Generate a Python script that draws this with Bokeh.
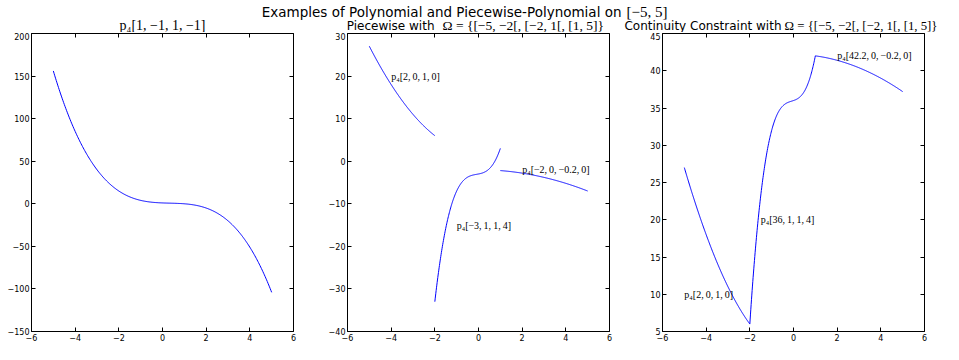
import numpy as np
from numpy.polynomial import polynomial as P
from bokeh.plotting import figure
from bokeh.layouts import column, row
from bokeh.models import Range1d, FixedTicker, LinearAxis
from bokeh.core.properties import value
from bokeh.embed import file_html
from bokeh.resources import INLINE

# ---------------- data ----------------
suptitle_text = "Examples of Polynomial and Piecewise-Polynomial on"
suptitle_math = "[−5, 5]"
subtitle_2_text = "Piecewise with"
subtitle_3_text = "Continuity Constraint with"
omega_math = "Ω = {[−5, −2[, [−2, 1[, [1, 5]}"

x_ticks = [-6, -4, -2, 0, 2, 4, 6]
x_tick_labels = ["−6", "−4", "−2", "0", "2", "4", "6"]
y_ticks_1 = [-150, -100, -50, 0, 50, 100, 150, 200]
y_tick_labels_1 = ["−150", "−100", "−50", "0", "50", "100", "150", "200"]
y_ticks_2 = [-40, -30, -20, -10, 0, 10, 20, 30]
y_tick_labels_2 = ["−40", "−30", "−20", "−10", "0", "10", "20", "30"]
y_ticks_3 = [5, 10, 15, 20, 25, 30, 35, 40, 45]
y_tick_labels_3 = ["5", "10", "15", "20", "25", "30", "35", "40", "45"]

domain = [-5, 5]
breaks = [-5, -2, 1, 5]
poly_coeffs = [1, -1, 1, -1]                      # a + b x + c x^2 + d x^3
piecewise_coeffs = [[2, 0, 1, 0], [-3, 1, 1, 4], [-2, 0, -0.2, 0]]
continuity_coeffs = [[2, 0, 1, 0], [36, 1, 1, 4], [42.2, 0, -0.2, 0]]
piecewise_label_x = [-4, -1, 2]
piecewise_label_y = [20, -15, -2]
continuity_label_x = [-5, -1.5, 2]
continuity_label_y = [10, 20, 42]

# ---------------- helpers ----------------
def fmt(c):
    return f"{c:g}".replace("-", "−")

def plabel(coeffs, sep=",\u2009"):
    return "p₄[" + sep.join(fmt(c) for c in coeffs) + "]"

FONT = "DejaVu Sans"
SERIF = "Liberation Serif"
HDR_H = 32
FIG_H = 344 - HDR_H
BT, BB = 1, 13
FRAME_W = [262, 262, 262]
BL = [31, 27, 27]
BR = [27, 26, 19]
WIDTHS = [BL[i] + FRAME_W[i] + BR[i] for i in range(3)]
TOTAL_W = sum(WIDTHS)


def make_panel(i, y_range, y_ticks, y_labels):
    p = figure(width=WIDTHS[i], height=FIG_H,
               x_range=Range1d(-6, 6), y_range=Range1d(*y_range),
               output_backend="svg", toolbar_location=None,
               min_border_left=BL[i], min_border_right=BR[i],
               min_border_top=BT, min_border_bottom=BB,
               x_axis_type=None, y_axis_type=None)
    p.outline_line_color = "black"
    p.outline_line_width = 1
    p.background_fill_color = "white"
    p.border_fill_color = "white"
    for side in ["below", "left", "above", "right"]:
        is_x = side in ("below", "above")
        ticks = x_ticks if is_x else y_ticks
        labels = x_tick_labels if is_x else y_labels
        ax = LinearAxis(ticker=FixedTicker(ticks=ticks),
                        major_tick_in=4, major_tick_out=0,
                        major_tick_line_color="black", major_tick_line_width=1,
                        minor_tick_line_color=None, axis_line_color=None,
                        major_label_text_font=FONT,
                        major_label_text_color="black")
        if side in ("below", "left"):
            ax.major_label_overrides = {t: l for t, l in zip(ticks, labels)}
            ax.major_label_text_font_size = "8px"
            ax.major_label_standoff = 2
        else:
            ax.major_label_overrides = {t: "" for t in ticks}
            ax.major_label_text_font_size = "0px"
            ax.major_label_standoff = 0
        p.add_layout(ax, side)
    return p


# Panel 1
p1 = make_panel(0, (-150, 200), y_ticks_1, y_tick_labels_1)
x1 = np.linspace(domain[0], domain[1], 300)
p1.line(x1, P.polyval(x1, poly_coeffs), line_color="blue", line_width=1)

# Panel 2
p2 = make_panel(1, (-40, 30), y_ticks_2, y_tick_labels_2)
for k, c in enumerate(piecewise_coeffs):
    xs = np.linspace(breaks[k], breaks[k + 1], 200)
    p2.line(xs, P.polyval(xs, c), line_color="blue", line_width=1)
p2.text(x=piecewise_label_x, y=piecewise_label_y,
        text=[plabel(c) for c in piecewise_coeffs],
        text_font=value(SERIF), text_font_size="10px", text_color="black",
        text_align="left", text_baseline="alphabetic")

# Panel 3
p3 = make_panel(2, (5, 45), y_ticks_3, y_tick_labels_3)
for k, c in enumerate(continuity_coeffs):
    xs = np.linspace(breaks[k], breaks[k + 1], 200)
    p3.line(xs, P.polyval(xs, c), line_color="blue", line_width=1)
p3.text(x=continuity_label_x, y=continuity_label_y,
        text=[plabel(c) for c in continuity_coeffs],
        text_font=value(SERIF), text_font_size="10px", text_color="black",
        text_align="left", text_baseline="alphabetic")

# Header with titles (x in page pixels, y measured up from header bottom)
hdr = figure(width=TOTAL_W, height=HDR_H,
             x_range=Range1d(0, TOTAL_W), y_range=Range1d(0, HDR_H),
             output_backend="svg", toolbar_location=None, min_border=0,
             min_border_left=0, min_border_right=0,
             min_border_top=0, min_border_bottom=0,
             x_axis_type=None, y_axis_type=None)
hdr.outline_line_color = None
frame_left = []
off = 0
for i in range(3):
    frame_left.append(off + BL[i])
    off += WIDTHS[i]
centers = [fl + FRAME_W[i] / 2 for i, fl in enumerate(frame_left)]

sup_base = HDR_H - 11
sub_base = HDR_H - 25
hdr.text(x=[621], y=[sup_base], text=[suptitle_text],
         text_font=value(FONT), text_font_size="13.5px", text_align="right",
         text_baseline="alphabetic", text_color="black")
hdr.text(x=[626], y=[sup_base], text=[suptitle_math],
         text_font=value(SERIF), text_font_size="15px", text_align="left",
         text_baseline="alphabetic", text_color="black")
hdr.text(x=[centers[0]], y=[sub_base], text=[plabel(poly_coeffs, sep=", ")],
         text_font=value(SERIF), text_font_size="14px", text_align="center",
         text_baseline="alphabetic", text_color="black")
hdr.text(x=[centers[1] - 44, centers[2] - 12], y=[sub_base, sub_base],
         text=[subtitle_2_text, subtitle_3_text],
         text_font=value(FONT), text_font_size="12px", text_align="right",
         text_baseline="alphabetic", text_color="black")
hdr.text(x=[centers[1] - 36], y=[sub_base], text=[omega_math],
         text_font=value(SERIF), text_font_size="13.5px", text_align="left",
         text_baseline="alphabetic", text_color="black")
hdr.text(x=[centers[2] - 9], y=[sub_base], text=[omega_math],
         text_font=value(SERIF), text_font_size="12.8px", text_align="left",
         text_baseline="alphabetic", text_color="black")

layout = column(hdr, row(p1, p2, p3, spacing=0), spacing=0)
open("out.html", "w").write(file_html(layout, INLINE))
